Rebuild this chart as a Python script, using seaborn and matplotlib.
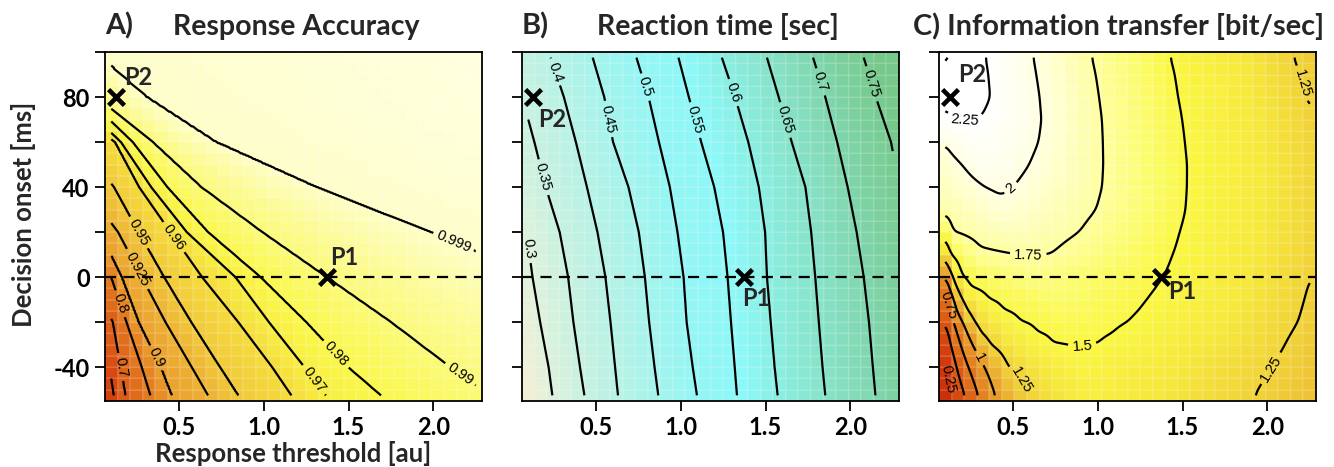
import numpy as np
import matplotlib
matplotlib.use("Agg")
import matplotlib.pyplot as plt
import seaborn as sns
from matplotlib.colors import LinearSegmentedColormap

# ------------------------------------------------------------------
# Data.
# Rows = decision onset [ms]; for A and B each row lists where (response
# threshold) the surface reaches each level; for C each row lists knots
# (threshold, value) of the information-transfer profile.
# ------------------------------------------------------------------
ONSET_ROWS = [97.5, 80, 60, 40, 20, 0, -20, -40, -52.5]

# A) Response accuracy
ACC_VALUES = [0.5, 0.6, 0.7, 0.8, 0.9, 0.925, 0.95, 0.96, 0.97, 0.98, 0.99, 0.999, 1.0]
ACC_LEVEL_X = [
    [-1.5, -1.3, -1.1, -0.9, -0.75, -0.65, -0.55, -0.4, -0.3, -0.2, -0.1, 0.04, 3.0],
    [-1.3, -1.1, -0.9, -0.7, -0.55, -0.45, -0.35, -0.22, -0.12, -0.05, 0.01, 0.307, 3.2],
    [-1.1, -0.9, -0.7, -0.5, -0.35, -0.25, -0.1, 0.124, 0.156, 0.226, 0.344, 0.716, 3.5],
    [-0.9, -0.7, -0.5, -0.33, -0.2, -0.06, 0.115, 0.265, 0.335, 0.43, 0.63, 1.306, 4.0],
    [-0.6, -0.4, -0.22, -0.05, 0.03, 0.14, 0.26, 0.45, 0.545, 0.67, 0.99, 1.98, 4.5],
    [-0.35, -0.18, -0.02, 0.1, 0.16, 0.28, 0.41, 0.636, 0.833, 0.98, 1.37, 2.6, 5.0],
    [-0.2, -0.05, 0.11, 0.19, 0.26, 0.42, 0.57, 0.85, 1.03, 1.25, 1.75, 3.2, 5.5],
    [0.0, 0.09, 0.155, 0.28, 0.39, 0.575, 0.74, 1.05, 1.24, 1.497, 2.1, 3.8, 6.0],
    [0.03, 0.115, 0.183, 0.331, 0.455, 0.671, 0.848, 1.163, 1.365, 1.69, 2.33, 4.2, 6.3],
]
ACC_LEVELS = [0.6, 0.7, 0.8, 0.9, 0.925, 0.95, 0.96, 0.97, 0.98, 0.99, 0.999]
ACC_LABELED = [0.7, 0.8, 0.9, 0.925, 0.95, 0.96, 0.97, 0.98, 0.99, 0.999]

# B) Reaction time
RT_VALUES = [0.25, 0.3, 0.35, 0.4, 0.45, 0.5, 0.55, 0.6, 0.65, 0.7, 0.75, 0.8]
RT_LEVEL_X = [
    [-0.5, -0.26, -0.013, 0.232, 0.48, 0.738, 0.986, 1.242, 1.508, 1.78, 2.079, 2.39],
    [-0.42, -0.18, 0.064, 0.31, 0.548, 0.81, 1.047, 1.32, 1.577, 1.852, 2.15, 2.46],
    [-0.36, -0.115, 0.136, 0.381, 0.60, 0.871, 1.12, 1.398, 1.654, 1.922, 2.24, 2.55],
    [-0.28, -0.04, 0.203, 0.446, 0.691, 0.935, 1.197, 1.46, 1.735, 1.984, 2.29, 2.6],
    [-0.15, 0.09, 0.285, 0.508, 0.752, 0.98, 1.249, 1.497, 1.769, 2.037, 2.33, 2.63],
    [-0.08, 0.125, 0.335, 0.555, 0.788, 1.016, 1.276, 1.508, 1.793, 2.079, 2.37, 2.67],
    [-0.02, 0.17, 0.366, 0.585, 0.813, 1.034, 1.296, 1.53, 1.814, 2.11, 2.40, 2.70],
    [0.03, 0.22, 0.405, 0.612, 0.845, 1.07, 1.318, 1.553, 1.836, 2.133, 2.42, 2.72],
    [0.05, 0.242, 0.431, 0.629, 0.867, 1.095, 1.331, 1.571, 1.852, 2.148, 2.44, 2.74],
]
RT_LEVELS = [0.3, 0.35, 0.4, 0.45, 0.5, 0.55, 0.6, 0.65, 0.7, 0.75]

# C) Information transfer
IT_ROWS = [97.5, 90, 80, 70, 60, 50, 40, 30, 20, 10, 0, -5, -10, -15, -20, -25, -30, -40, -52.5]
IT_KNOT_X = [
    [0.1, 0.22, 0.346, 0.618, 0.963, 1.425, 2.154, 2.25],
    [0.1, 0.2, 0.36, 0.635, 0.985, 1.45, 2.19, 2.25],
    [0.1, 0.2, 0.372, 0.655, 1.005, 1.47, 2.225, 2.25],
    [0.1, 0.22, 0.34, 0.667, 1.022, 1.494, 2.25],
    [0.1, 0.3, 0.65, 1.028, 1.51, 2.25],
    [0.1, 0.2, 0.35, 0.595, 1.031, 1.523, 2.25],
    [0.1, 0.34, 0.42, 0.5, 1.025, 1.522, 2.25],
    [0.1, 0.45, 0.99, 1.514, 2.25],
    [0.1, 0.14, 0.5, 0.89, 1.48, 2.25],
    [0.1, 0.127, 0.3, 0.58, 0.72, 1.44, 2.25],
    [0.1, 0.146, 0.195, 0.6, 1.386, 2.25],
    [0.1, 0.12, 0.17, 0.24, 0.7, 1.34, 2.236, 2.25],
    [0.1, 0.114, 0.147, 0.198, 0.354, 0.8, 1.29, 2.219, 2.25],
    [0.1, 0.13, 0.165, 0.225, 0.44, 0.82, 1.24, 2.2, 2.25],
    [0.1, 0.15, 0.202, 0.266, 0.54, 0.85, 1.18, 2.18, 2.25],
    [0.1, 0.115, 0.17, 0.23, 0.305, 0.64, 0.86, 1.086, 2.14, 2.25],
    [0.09, 0.13, 0.19, 0.259, 0.363, 0.73, 0.86, 1.0, 2.104, 2.25],
    [0.1, 0.115, 0.165, 0.235, 0.33, 0.47, 0.9, 2.027, 2.25],
    [0.1, 0.14, 0.215, 0.293, 0.392, 0.58, 0.95, 1.927, 2.25],
]
IT_KNOT_V = [
    [2.24, 2.29, 2.25, 2.0, 1.75, 1.5, 1.25, 1.225],
    [2.27, 2.31, 2.25, 2.0, 1.75, 1.5, 1.25, 1.235],
    [2.27, 2.31, 2.25, 2.0, 1.75, 1.5, 1.25, 1.245],
    [2.235, 2.26, 2.24, 2.0, 1.75, 1.5, 1.255],
    [2.01, 2.2, 2.0, 1.75, 1.5, 1.265],
    [1.93, 2.0, 2.13, 2.0, 1.75, 1.5, 1.27],
    [1.87, 2.0, 2.03, 2.0, 1.75, 1.5, 1.27],
    [1.8, 1.95, 1.75, 1.5, 1.27],
    [1.58, 1.75, 1.86, 1.75, 1.5, 1.27],
    [1.28, 1.5, 1.72, 1.755, 1.75, 1.5, 1.26],
    [1.0, 1.25, 1.5, 1.68, 1.5, 1.25],
    [0.78, 1.0, 1.25, 1.5, 1.64, 1.5, 1.25, 1.245],
    [0.65, 0.75, 1.0, 1.25, 1.5, 1.6, 1.5, 1.25, 1.24],
    [0.58, 0.75, 1.0, 1.25, 1.5, 1.57, 1.5, 1.25, 1.235],
    [0.5, 0.75, 1.0, 1.25, 1.5, 1.54, 1.5, 1.25, 1.23],
    [0.39, 0.5, 0.75, 1.0, 1.25, 1.5, 1.522, 1.5, 1.25, 1.22],
    [0.25, 0.5, 0.75, 1.0, 1.25, 1.5, 1.505, 1.5, 1.25, 1.21],
    [0.21, 0.25, 0.5, 0.75, 1.0, 1.25, 1.46, 1.25, 1.2],
    [0.15, 0.25, 0.5, 0.75, 1.0, 1.25, 1.42, 1.25, 1.18],
]
IT_LEVELS = [0.25, 0.5, 0.75, 1.0, 1.25, 1.5, 1.75, 2.0, 2.25]
IT_LABELED = [0.25, 0.75, 1.0, 1.25, 1.5, 1.75, 2.0, 2.25]

# operating points
P1 = (1.375, 0.0)
P2 = (0.13, 80.0)

X_TICKS = [0.5, 1.0, 1.5, 2.0]
X_TICK_LABELS = ["0.5", "1.0", "1.5", "2.0"]
Y_TICKS = [-40, -20, 0, 20, 40, 60, 80, 100]
Y_TICK_LABELS = ["-40", "", "0", "", "40", "", "80", ""]

TITLES = [("A)", "Response Accuracy"), ("B)", "Reaction time [sec]"),
          ("C) Information transfer [bit/sec]", None)]
X_LABEL = "Response threshold [au]"
Y_LABEL = "Decision onset [ms]"

# colour ramps (value node -> colour)
ACC_CNODES = [0.55, 0.65, 0.75, 0.85, 0.9, 0.925, 0.95, 0.96, 0.97, 0.98, 0.99, 0.995, 0.999, 1.0]
ACC_COLORS = ["#D43A0C", "#DA5414", "#E06E1C", "#E68C26", "#EAA02E", "#EDB234", "#F1C93A",
              "#F5DC3C", "#F8EE40", "#FAF84C", "#FBFA78", "#FDFCA8", "#FEFEC8", "#FFFFE4"]
RT_CNODES = [0.26, 0.3, 0.35, 0.42, 0.5, 0.56, 0.62, 0.66, 0.7, 0.76]
RT_COLORS = ["#F3EFD6", "#DDF2DC", "#C8F1E0", "#B0F2E8", "#94F6F4", "#8DF8F8",
             "#8AEAD8", "#86E0C4", "#80D6AE", "#76C98A"]
IT_CNODES = [0.15, 0.25, 0.5, 0.75, 1.0, 1.15, 1.25, 1.35, 1.5, 1.62, 1.75, 2.0, 2.25]
IT_COLORS = ["#CC300A", "#D23C0C", "#D95A12", "#E0781C", "#E79A28", "#EDBB32", "#F1D338",
             "#F6E83C", "#FAF742", "#FCFC70", "#FEFE9E", "#FFFFE2", "#FFFFFF"]

ACC_LABEL_POS = [(2.117, 15.6), (2.152, -43.7), (1.428, -34.1), (1.29, -45.9), (0.465, 17.5),
                 (0.258, 19.7), (0.238, 3.0), (0.36, -35.9), (0.14, -12.1), (0.15, -40)]
RT_LABEL_POS = [(0.11, 12.6), (0.19, 44.4), (0.258, 91.1), (0.583, 70.4), (0.789, 84.4),
                (1.075, 69.6), (1.291, 81.5), (1.606, 69.6), (1.823, 86.7), (2.128, 85.9)]
IT_LABEL_POS = [(0.215, 69.6), (0.496, 38.8), (0.589, 9.2), (0.909, -31.1), (2.193, 85.9),
                (2.026, -40.7), (0.53, -46.7), (0.293, -36.3), (0.122, -12.6), (0.126, -45.2)]

P_TEXT = [((0.175, 85.5), (1.39, 5.2)),
          ((0.16, 66.7), (1.36, -12.6)),
          ((0.175, 86.7), (1.415, -9.6))]

# ------------------------------------------------------------------
sns.set_theme(style="ticks")
plt.rcParams["font.family"] = ["Lato", "DejaVu Sans"]
plt.rcParams["font.weight"] = "bold"


def surface_from_levels(rows, values, level_x, xs, ys):
    rows = np.asarray(rows, float)
    P = np.asarray(level_x, float)
    o = np.argsort(rows)
    Z = np.empty((len(ys), len(xs)))
    for k, y in enumerate(ys):
        xl = np.array([np.interp(y, rows[o], P[o, j]) for j in range(P.shape[1])])
        Z[k] = np.interp(xs, xl, values)
    return Z


def box_smooth(Z, ky, kx, passes=2):
    """Separable box smoothing with edge padding (softens row-to-row kinks)."""
    for _ in range(passes):
        P = np.pad(Z, ((ky // 2, ky // 2), (0, 0)), mode="edge")
        Z = np.apply_along_axis(lambda c: np.convolve(c, np.ones(ky) / ky, mode="valid"), 0, P)
        P = np.pad(Z, ((0, 0), (kx // 2, kx // 2)), mode="edge")
        Z = np.apply_along_axis(lambda r: np.convolve(r, np.ones(kx) / kx, mode="valid"), 1, P)
    return Z


def surface_from_knots(rows, kx, kv, xs, ys, smooth=False):
    rows = np.asarray(rows, float)
    R = np.array([np.interp(xs, np.asarray(a, float), np.asarray(b, float)) for a, b in zip(kx, kv)])
    o = np.argsort(rows)
    Z = np.array([np.interp(ys, rows[o], R[o, j]) for j in range(len(xs))]).T
    if smooth:
        Z = box_smooth(Z, 9, 5)
    return Z


XF = np.linspace(0.1, 2.25, 260)
YF = np.linspace(-52.5, 97.5, 301)
XC = np.linspace(0.1, 2.25, 30)
YC = np.linspace(-52.5, 97.5, 31)

fig = plt.figure(figsize=(13.34, 4.67), dpi=100)
lefts = [105 / 1334, 522 / 1334, 939 / 1334]
axes = [fig.add_axes([l, 1 - 401 / 467, 377 / 1334, 349 / 467]) for l in lefts]

surfaces = [
    lambda xs, ys, s=False: surface_from_levels(ONSET_ROWS, ACC_VALUES, ACC_LEVEL_X, xs, ys),
    lambda xs, ys, s=False: surface_from_levels(ONSET_ROWS, RT_VALUES, RT_LEVEL_X, xs, ys),
    lambda xs, ys, s=False: surface_from_knots(IT_ROWS, IT_KNOT_X, IT_KNOT_V, xs, ys, smooth=s),
]
panels = [
    (ACC_LEVELS, ACC_LABELED, ACC_LABEL_POS, ACC_CNODES, ACC_COLORS),
    (RT_LEVELS, RT_LEVELS, RT_LABEL_POS, RT_CNODES, RT_COLORS),
    (IT_LEVELS, IT_LABELED, IT_LABEL_POS, IT_CNODES, IT_COLORS),
]

for i, (ax, surf, (levels, labeled, lpos, cnodes, ccols)) in enumerate(zip(axes, surfaces, panels)):
    Zc = surf(XC, YC)
    Zf = surf(XF, YF, True)
    t = np.interp(Zc, cnodes, np.linspace(0, 1, len(cnodes)))
    cmap = LinearSegmentedColormap.from_list(f"p{i}", ccols)
    ax.pcolormesh(XC, YC, t, cmap=cmap, vmin=0, vmax=1, shading="nearest",
                  edgecolors=(1, 1, 1, 0.10), linewidth=0.3)
    unlabeled = [lv for lv in levels if lv not in labeled]
    if unlabeled:
        ax.contour(XF, YF, Zf, levels=unlabeled, colors="black", linewidths=1.6)
    cs = ax.contour(XF, YF, Zf, levels=labeled, colors="black", linewidths=1.6)
    ax.clabel(cs, manual=lpos, fmt=lambda v: f"{v:g}",
              fontsize=10.5, inline=True, inline_spacing=4)
    for txt in cs.labelTexts:
        txt.set_fontfamily(["Liberation Sans", "DejaVu Sans"])
        txt.set_fontweight("normal")

    ax.axhline(0, color="black", lw=1.6, dashes=(5, 3.3), zorder=4)
    sns.scatterplot(x=[P1[0], P2[0]], y=[P1[1], P2[1]], marker="x", s=130, color="black",
                    linewidth=3.3, ax=ax, zorder=6, legend=False)
    (p2x, p2y), (p1x, p1y) = P_TEXT[i]
    ax.text(p2x, p2y, "P2", fontsize=17, fontweight="bold", ha="left", va="baseline", zorder=7)
    ax.text(p1x, p1y, "P1", fontsize=17, fontweight="bold", ha="left", va="baseline", zorder=7)

    ax.set_xlim(XC[0] - (XC[1] - XC[0]) / 2, XC[-1] + (XC[1] - XC[0]) / 2)
    ax.set_ylim(-55, 100)
    ax.set_xticks(X_TICKS)
    ax.set_xticklabels(X_TICK_LABELS)
    ax.set_yticks(Y_TICKS)
    ax.set_yticklabels(Y_TICK_LABELS if i == 0 else [""] * len(Y_TICKS))
    ax.tick_params(axis="both", direction="out", length=7, width=1.3, labelsize=17, pad=4,
                   color="black", labelcolor="black")
    for lab in ax.get_xticklabels() + ax.get_yticklabels():
        lab.set_fontweight("bold")
    for sp in ax.spines.values():
        sp.set_linewidth(1.3)
        sp.set_color("black")
        sp.set_visible(True)
    ax.set_xlabel("")
    ax.set_ylabel("")

    head, rest = TITLES[i]
    if rest is None:
        ax.text(-0.069, 1.05, head, transform=ax.transAxes, fontsize=20.8, fontweight="bold",
                ha="left", va="baseline")
    else:
        ax.text(0.0, 1.05, head, transform=ax.transAxes, fontsize=20.8, fontweight="bold",
                ha="left", va="baseline")
        ax.text(0.18 if i == 0 else 0.20, 1.05, rest, transform=ax.transAxes, fontsize=20.5,
                fontweight="bold", ha="left", va="baseline")

fig.text(293.5 / 1334, 1 - 454 / 467, X_LABEL, ha="center", va="center", fontsize=18.5,
         fontweight="bold")
fig.text(24 / 1334, 1 - 214 / 467, Y_LABEL, ha="center", va="center", rotation=90,
         fontsize=18.5, fontweight="bold")

fig.savefig("out.png", dpi=100)
